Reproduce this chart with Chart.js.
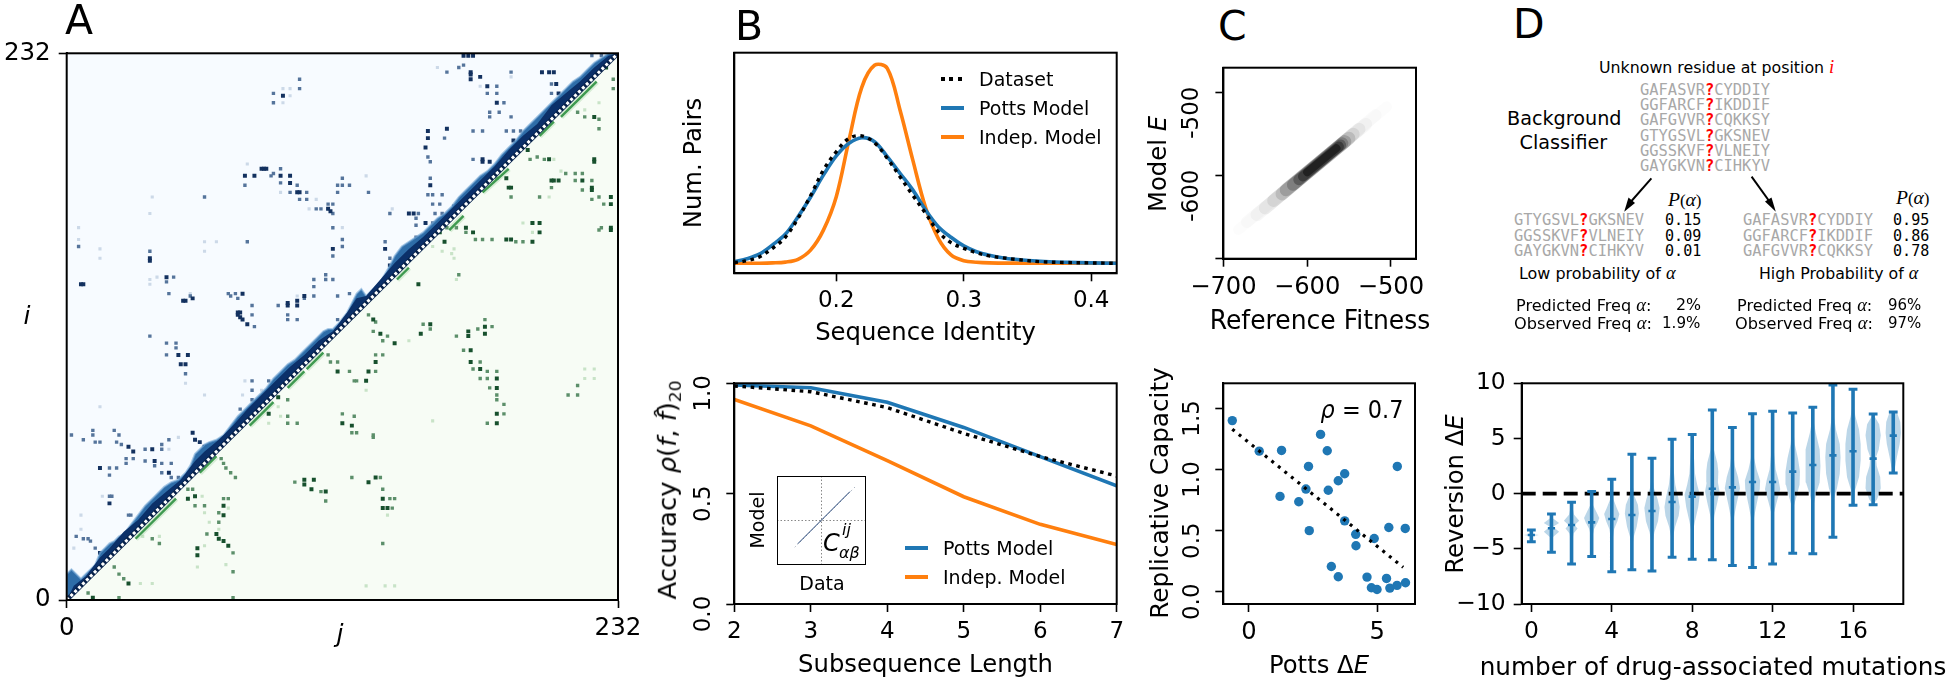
<!DOCTYPE html>
<html>
<head>
<meta charset="utf-8">
<title>Potts model panels</title>
<script src="https://cdn.jsdelivr.net/npm/chart.js@4"></script>
<style>
	html, body { margin: 0; background: #fff; width: 1950px; height: 684px; overflow: hidden; }
	canvas { position: absolute; }
	.t { position: absolute; white-space: nowrap; line-height: 1; font-family: "DejaVu Sans", sans-serif; color: #000; }
	.t i.s { font-family: "Liberation Serif", serif; }
	.mono { font-family: "DejaVu Sans Mono", monospace; }
</style>
</head>
<body>
<script>
// Panel A: contact map, [j, i] cells
const triUpperJ = [0, 0, 232];
const triUpperI = [0, 232, 232];
const triLowerJ = [0, 232, 232];
const triLowerI = [0, 0, 232];
const diagJ = [0, 232];
const diagI = [0, 232];
const bandJ = [0, 0, 2, 4, 6, 8, 10, 12, 14, 16, 18, 20, 22, 24, 27, 30, 33, 36, 38, 41, 44, 47, 50, 52, 54, 56, 58, 60, 63, 66, 69, 72, 75, 78, 81, 84, 87, 90, 93, 96, 99, 102, 105, 108, 110, 112, 115, 118, 120, 122, 124, 126, 128, 132, 136, 138, 141, 144, 147, 150, 153, 156, 159, 162, 165, 168, 171, 174, 177, 180, 183, 186, 189, 192, 195, 198, 201, 204, 207, 210, 213, 216, 219, 222, 225, 228, 232];
const bandI = [0, 11, 13, 11, 9, 11, 13, 15, 20, 22, 24, 25, 27, 28, 32, 36, 40, 43, 45, 48, 50, 51, 54, 57, 62, 64, 66, 67, 68, 70, 74, 78, 81, 84, 87, 90, 94, 97, 100, 102, 105, 108, 111, 114, 115, 115, 118, 122, 126, 130, 132, 129, 131, 135, 142, 146, 150, 152, 154, 156, 159, 162, 164, 167, 171, 174, 177, 180, 182, 185, 189, 192, 195, 199, 202, 205, 208, 211, 214, 217, 220, 222, 225, 228, 230, 232, 232];
const bandDarkJ = [0, 3, 8, 14, 18, 24, 30, 36, 42, 48, 54, 58, 64, 70, 76, 82, 88, 94, 100, 106, 112, 118, 122, 126, 132, 138, 144, 150, 156, 162, 168, 174, 180, 186, 192, 198, 204, 210, 216, 222, 228, 232];
const bandDarkI = [0, 6, 10, 18, 22, 29, 34, 41, 46, 51, 59, 63, 68, 74, 81, 87, 93, 99, 104, 110, 114, 122, 128, 129, 136, 143, 149, 154, 160, 166, 172, 178, 184, 191, 197, 202, 210, 215, 220, 226, 231, 232];
const greenLineJ = [29, 46, null, 56, 63, null, 77, 87, null, 93, 100, null, 101, 108, null, 139, 144, null, 161, 167, null, 175, 186, null, 199, 205, null, 208, 223];
const greenLineI = [26, 43, null, 54, 61, null, 74, 84, null, 90, 97, null, 98, 105, null, 136, 141, null, 157, 163, null, 173, 183, null, 197, 203, null, 205, 220];
const blueStrong = [[91,214],[83,183],[82,183],[84,183],[75,180],[79,180],[90,180],[94,180],[94,177],[97,173],[98,173],[110,166],[111,165],[35,145],[35,144],[112,149],[6,134],[7,134],[42,137],[50,127],[49,127],[53,128],[74,130],[100,129],[93,126],[93,125],[97,127],[97,125],[72,122],[73,122],[72,121],[73,120],[74,119],[76,117],[170,224],[170,223],[170,221],[174,222],[200,224],[203,224],[205,224],[206,219],[177,218],[207,215],[210,215],[181,211],[152,199],[160,200],[152,196],[151,192],[188,195],[191,194],[175,187],[175,186],[178,186],[153,176],[163,167],[144,164],[146,164],[151,160],[154,158],[134,149],[136,142],[138,143],[121,125],[47,104],[51,104],[50,100],[48,100],[53,71],[54,68],[56,67],[58,65],[26,65],[28,63],[36,64],[37,59],[14,56],[43,54],[18,41],[14,20],[167,231],[169,231],[171,231]];
const blueMid = [[98,221],[98,217],[87,215],[87,211],[90,183],[86,180],[87,181],[75,176],[90,177],[97,176],[94,173],[101,173],[98,170],[101,170],[105,166],[107,166],[110,168],[112,168],[112,164],[114,176],[114,173],[58,171],[112,158],[5,150],[76,152],[35,148],[112,146],[109,138],[112,136],[109,136],[104,136],[104,133],[45,137],[42,135],[43,130],[52,129],[68,130],[71,130],[69,129],[72,128],[78,125],[104,129],[114,129],[89,125],[100,128],[78,121],[79,116],[93,121],[93,119],[97,119],[114,119],[160,224],[165,226],[167,227],[187,224],[204,219],[181,218],[177,215],[181,215],[204,215],[184,211],[178,207],[178,205],[182,207],[187,205],[171,199],[175,199],[159,196],[185,199],[188,199],[191,199],[152,188],[153,186],[171,187],[116,179],[153,179],[116,176],[119,176],[127,173],[152,172],[154,172],[158,172],[168,172],[154,168],[157,168],[136,164],[148,164],[155,164],[158,164],[147,162],[147,159],[154,160],[147,154],[150,154],[153,154],[148,152],[116,153],[116,150],[134,152],[136,145],[141,143],[119,130],[122,128],[126,128],[35,112],[42,109],[46,109],[46,107],[42,104],[50,96],[78,93],[85,93],[78,89],[78,85],[73,81],[2,70],[11,72],[11,70],[20,72],[22,70],[43,68],[7,68],[12,67],[14,67],[21,67],[23,66],[33,64],[40,66],[40,64],[25,60],[28,60],[25,58],[33,59],[37,57],[40,58],[44,58],[18,56],[21,56],[18,53],[40,54],[44,52],[47,52],[18,44],[19,44],[26,36],[27,36],[4,27],[7,26],[9,26],[10,25],[12,22],[221,231],[225,231],[228,230]];
const blueFaint = [[94,217],[91,217],[94,214],[91,211],[76,185],[90,173],[105,170],[102,166],[36,171],[35,164],[5,158],[5,153],[58,152],[63,152],[58,148],[14,149],[14,145],[35,136],[35,134],[38,137],[52,130],[97,129],[156,226],[187,222],[174,218],[137,166],[116,158],[126,180],[47,69],[43,64],[50,92],[75,93],[82,89],[58,87],[74,87],[14,82],[15,44],[6,36],[6,30],[3,22]];
const greenStrong = [[51,43],[54,44],[66,40],[66,36],[63,28],[64,26],[66,25],[68,23],[55,22],[55,19],[11,1],[26,7],[116,75],[120,74],[100,51],[104,51],[100,49],[103,47],[109,46],[85,79],[89,86],[114,97],[170,106],[170,101],[174,98],[181,94],[181,90],[181,79],[181,75],[130,101],[127,97],[126,93],[138,109],[127,50],[130,52],[133,43],[133,39],[135,39],[153,117],[149,113],[129,119],[132,113],[176,116],[176,113],[169,114],[169,112],[148,134],[159,152],[157,156],[168,158],[171,156],[185,153],[187,153],[196,152],[196,160],[199,160],[199,156],[194,191],[203,187],[204,178],[205,178],[207,178],[217,178],[221,175],[221,174],[229,171],[229,168],[229,157],[229,158],[186,175],[187,175],[185,179],[222,187],[222,186],[222,205],[227,226]];
const greenMid = [[65,60],[66,58],[67,56],[69,54],[71,52],[51,47],[53,47],[54,40],[58,40],[66,43],[68,43],[64,37],[64,33],[59,28],[70,20],[70,12],[70,1],[22,1],[9,3],[15,15],[20,14],[22,11],[24,9],[36,26],[39,24],[116,79],[121,78],[122,71],[120,71],[120,52],[96,50],[107,46],[109,42],[93,78],[93,75],[97,75],[93,85],[111,101],[114,101],[119,97],[121,93],[110,104],[167,106],[174,101],[171,98],[177,97],[181,97],[174,94],[177,94],[178,90],[181,87],[181,85],[184,83],[184,79],[177,75],[215,91],[211,87],[215,87],[130,104],[133,104],[130,97],[122,93],[133,110],[129,70],[129,69],[132,52],[133,47],[136,43],[138,43],[137,39],[133,24],[150,117],[153,115],[129,114],[135,112],[123,123],[127,121],[130,118],[176,119],[173,115],[179,116],[164,112],[165,138],[160,158],[164,158],[168,156],[172,153],[175,153],[179,153],[189,152],[192,152],[196,160],[198,188],[195,187],[201,187],[210,181],[214,181],[217,181],[204,175],[214,178],[221,178],[217,174],[221,170],[224,171],[226,168],[225,158],[224,157],[187,171],[199,171],[181,179],[224,204],[224,200],[218,205],[215,207],[230,221],[230,217]];
const greenFaint = [[57,44],[68,39],[58,37],[60,33],[64,30],[58,23],[55,14],[67,15],[31,7],[36,7],[32,27],[39,27],[90,78],[85,75],[89,82],[218,98],[222,98],[218,94],[222,94],[154,76],[126,89],[144,110],[135,36],[134,6],[138,6],[126,6],[164,136],[163,145],[163,149],[162,147],[158,148],[154,150],[196,156],[192,160],[205,187],[208,182],[203,171],[218,208],[224,211]];
const aTicks = [0, 232];
const aTickLabels = ['0', '232'];

// Panel B top
const identityX = [0.12, 0.13, 0.14, 0.15, 0.16, 0.17, 0.18, 0.19, 0.20, 0.21, 0.22, 0.23, 0.24, 0.25, 0.26, 0.27, 0.28, 0.29, 0.30, 0.31, 0.32, 0.33, 0.34, 0.36, 0.38, 0.40, 0.42];
const identityDataset = [0.3, 1.3, 3.3, 7.5, 13, 22.5, 34, 46.7, 55.8, 62.5, 63.7, 60.3, 52.5, 43.3, 34, 25, 15.8, 10.3, 7.5, 5.3, 3.7, 2.8, 2, 0.8, 0.4, 0.2, 0];
const identityPotts = [0.8, 2.3, 4.7, 9.2, 14.5, 23.3, 33.3, 44.2, 53.7, 60, 62.8, 60.8, 53.3, 45, 36.7, 26.7, 18.3, 13, 8.7, 5.8, 4, 2.8, 2, 1, 0.5, 0.2, 0];
const indepX = [0.12, 0.14, 0.15, 0.16, 0.17, 0.18, 0.19, 0.20, 0.21, 0.22, 0.23, 0.24, 0.25, 0.26, 0.27, 0.28, 0.29, 0.30, 0.31, 0.32, 0.34, 0.42];
const identityIndep = [0, 0.05, 0.2, 0.6, 2, 6.7, 16.7, 33.3, 61.7, 88, 99, 97.5, 76.7, 51.7, 28, 12.5, 4.2, 1.3, 0.5, 0.2, 0.1, 0];
const identityTicks = [0.2, 0.3, 0.4];
const identityTickLabels = ['0.2', '0.3', '0.4'];

// Panel B bottom
const subLength = [2, 3, 4, 5, 6, 7];
const accDataset = [0.988, 0.962, 0.89, 0.773, 0.668, 0.58];
const accPotts = [0.992, 0.98, 0.914, 0.80, 0.668, 0.536];
const accIndep = [0.927, 0.807, 0.65, 0.486, 0.361, 0.27];
const accTicks = [0, 0.5, 1];
const accTickLabels = ['0.0', '0.5', '1.0'];
const insetCrossX = [-1, 1];
const insetZero = [0, 0];
const insetLineX = [-0.53, 0.64];
const insetLineY = [-0.52, 0.65];
const insetTailX = [-0.6, 0.79];
const insetTailY = [-0.6, 0.79];

// Panel C top: density ridge, faint to dark
const ridgeStartX = [-682, -672, -660, -650, -640, -630, -625, -617, -610, -605, -600];
const ridgeStartY = [-665, -656, -647, -639, -630, -622, -617, -611, -605, -601, -596];
const ridgeEndX = [-505, -518, -530, -538, -545, -550, -555, -558, -560, -562, -565];
const ridgeEndY = [-517, -527, -538, -544, -550, -555, -559, -561, -563, -565, -567];
const ridgeAlpha = [0.012, 0.02, 0.03, 0.05, 0.08, 0.12, 0.16, 0.2, 0.28, 0.35, 0.45];
const ridgeWidth = [11, 12, 13, 13, 13, 13, 13, 12, 11, 10, 8];
const fitnessTicks = [-700, -600, -500];
const fitnessTickLabels = ['\u2212700', '\u2212600', '\u2212500'];
const modelETicks = [-700, -600, -500];
const modelETickLabels = ['', '-600', '-500'];

// Panel C bottom
const pottsE = [-0.65, 0.40, 1.27, 1.21, 1.94, 2.22, 2.32, 2.35, 2.79, 3.05, 3.09, 3.48, 3.73, 3.73, 3.21, 3.48, 4.16, 4.17, 4.60, 4.88, 4.77, 4.99, 5.36, 5.45, 5.49, 5.77, 5.78, 6.10, 6.09];
const repCapacity = [1.40, 1.15, 1.156, 0.78, 0.736, 0.84, 1.025, 0.50, 1.287, 1.153, 0.83, 0.908, 0.965, 0.58, 0.207, 0.123, 0.47, 0.376, 0.12, 0.436, 0.033, 0.019, 0.109, 0.526, 0.03, 0.052, 1.025, 0.074, 0.518];
const fitLineX = [-0.65, 6.01];
const fitLineY = [1.33, 0.2];
const pottsTicks = [0, 5];
const pottsTickLabels = ['0', '5'];
const capTicks = [0, 0.5, 1, 1.5];
const capTickLabels = ['0.0', '0.5', '1.0', '1.5'];

// Panel D bottom: reversion violins
const mutCount = [0, 1, 2, 3, 4, 5, 6, 7, 8, 9, 10, 11, 12, 13, 14, 15, 16, 17, 18];
const revMin = [-4.35, -5.3, -6.37, -5.7, -7.07, -6.9, -7, -5.77, -5.95, -5.98, -6.5, -6.7, -6.37, -5.4, -5.44, -3.96, -1.06, -1, 1.87];
const revMid = [-3.75, -3.14, -2.84, -2.6, -2.3, -1.93, -1.57, -0.76, -0.27, 0.45, 0.57, 1.06, 1.06, 2.0, 2.6, 3.47, 3.84, 3.17, 5.26];
const revMax = [-3.3, -1.84, -0.79, 0.2, 1.3, 3.56, 3.2, 4.92, 5.35, 7.58, 6.0, 7.25, 7.46, 7.3, 7.82, 9.85, 9.46, 7.22, 7.4];
// each violin: [y, half width] from bottom to top
const violinShapes = [
	[[-4.3,0],[-3.85,0.02],[-3.75,0.38],[-3.65,0.02],[-3.3,0]],
	[[-5.3,0],[-4,0.04],[-3.45,0.38],[-3,0.08],[-2.65,0.38],[-2.2,0.05],[-1.84,0]],
	[[-6.37,0],[-4.5,0.02],[-3.6,0.1],[-3.15,0.3],[-2.85,0.15],[-2.45,0.38],[-1.9,0.12],[-0.79,0]],
	[[-5.7,0],[-4,0.03],[-3.2,0.12],[-2.6,0.3],[-2.2,0.38],[-1.7,0.25],[-1,0.06],[0.2,0]],
	[[-7.07,0],[-4.5,0.02],[-3.2,0.12],[-2.5,0.28],[-1.85,0.38],[-1.3,0.25],[-0.5,0.08],[1.3,0]],
	[[-6.9,0],[-5,0.02],[-4,0.08],[-3,0.24],[-1.8,0.35],[-1,0.3],[-0.2,0.12],[1,0.02],[3.56,0]],
	[[-7,0],[-4.5,0.03],[-3.5,0.12],[-2.5,0.3],[-1.3,0.38],[-0.5,0.28],[0.5,0.1],[1.5,0.02],[3.2,0]],
	[[-5.77,0],[-4,0.04],[-3,0.15],[-2,0.33],[-1.2,0.38],[-0.3,0.3],[0.8,0.16],[1.8,0.1],[3,0.03],[4.92,0]],
	[[-5.95,0],[-3.5,0.03],[-2.5,0.14],[-1.2,0.3],[-0.1,0.38],[0.8,0.25],[1.8,0.14],[3,0.1],[5.35,0]],
	[[-5.98,0],[-3,0.02],[-2,0.1],[-0.8,0.25],[0.2,0.36],[1,0.28],[2,0.3],[2.8,0.25],[4,0.08],[7.58,0]],
	[[-6.5,0],[-2.5,0.04],[-1,0.2],[0.5,0.38],[1.5,0.28],[2.5,0.12],[3.5,0.05],[6,0]],
	[[-6.7,0],[-2.5,0.04],[-1,0.2],[0.4,0.36],[1.2,0.38],[2.2,0.2],[3.2,0.08],[4.5,0.03],[7.25,0]],
	[[-6.37,0],[-2,0.03],[-0.8,0.2],[0.4,0.38],[1.2,0.3],[2.2,0.15],[3.5,0.08],[5,0.02],[7.46,0]],
	[[-5.4,0],[-1.2,0.04],[-0.2,0.2],[0.8,0.34],[2,0.36],[3.2,0.26],[4.5,0.1],[5.8,0.03],[7.3,0]],
	[[-5.44,0],[-1,0.04],[0,0.16],[1,0.34],[2.5,0.38],[4,0.34],[5.5,0.15],[6.5,0.05],[7.82,0]],
	[[-3.96,0],[-0.5,0.04],[0.5,0.2],[1.8,0.34],[3.3,0.38],[4.5,0.34],[5.8,0.15],[7,0.05],[9.85,0]],
	[[-1.06,0],[0.3,0.1],[1.5,0.3],[3,0.38],[4.5,0.38],[5.8,0.3],[7,0.12],[8,0.03],[9.46,0]],
	[[-1,0],[-0.5,0.2],[0.5,0.38],[1.5,0.35],[2.5,0.18],[3.3,0.14],[4,0.28],[5.3,0.38],[6.3,0.3],[7.22,0]],
	[[1.87,0],[2.5,0.1],[3.3,0.18],[4.5,0.32],[5.5,0.38],[6.5,0.35],[7.4,0.18]]
];
const mutTicks = [0, 4, 8, 12, 16];
const mutTickLabels = ['0', '4', '8', '12', '16'];
const revTicks = [-10, -5, 0, 5, 10];
const revTickLabels = ['\u221210', '\u22125', '0', '5', '10'];

// Panel D top: classifier text
const topSeqs = ['GAFASVR?CYDDIY', 'GGFARCF?IKDDIF', 'GAFGVVR?CQKKSY', 'GTYGSVL?GKSNEV', 'GGSSKVF?VLNEIY', 'GAYGKVN?CIHKYV'];
const lowSeqs = ['GTYGSVL?GKSNEV', 'GGSSKVF?VLNEIY', 'GAYGKVN?CIHKYV'];
const lowProbs = ['0.15', '0.09', '0.01'];
const highSeqs = ['GAFASVR?CYDDIY', 'GGFARCF?IKDDIF', 'GAFGVVR?CQKKSY'];
const highProbs = ['0.95', '0.86', '0.78'];

const BLUE = '#1f77b4';
const ORANGE = '#ff7f0e';
const LABEL_SIZE = 24.3;

Chart.defaults.font.family = '"DejaVu Sans", sans-serif';
Chart.defaults.color = '#000';

function zip(xs, ys) {
	return xs.map((x, k) => ({x: x, y: ys[k]}));
}

function cells(list) {
	return list.map(c => ({x: c[0], y: c[1]}));
}

function curve(xs, ys, color, width, extra) {
	return Object.assign({data: zip(xs, ys), showLine: true, borderColor: color, borderWidth: width, pointRadius: 0, fill: false}, extra);
}

function shape(points, color, edge) {
	return {data: points, showLine: true, borderWidth: edge ? 2 : 0, borderColor: edge || color, backgroundColor: color, pointRadius: 0, fill: 'shape'};
}

function dots(list, color, radius) {
	return {data: cells(list), pointStyle: 'rect', pointRadius: radius, pointBackgroundColor: color, pointBorderWidth: 0};
}

function axis(min, max, ticks, labels, size, o) {
	o = o || {};
	return {
		type: 'linear', min: min, max: max,
		afterBuildTicks: s => { s.ticks = ticks.map(v => ({value: v})); },
		afterFit: s => { if (s.isHorizontal()) s.height = size; else s.width = size; },
		grid: {drawOnChartArea: false, drawTicks: true, tickLength: 8, tickWidth: 1.6, tickColor: '#000'},
		border: {color: '#000', width: 2},
		ticks: {display: !o.hideLabels, autoSkip: false, minRotation: 0, maxRotation: 0, padding: o.pad === undefined ? 6 : o.pad, font: {size: o.tickSize || 23}, color: '#000', callback: (v, k) => labels[k]},
		title: o.title ? {display: true, text: o.title, color: '#000', font: {size: LABEL_SIZE}, padding: {top: 0, bottom: o.titlePad}} : {display: false}
	};
}

const framePlugin = {
	id: 'frame',
	afterDatasetsDraw(chart) {
		const a = chart.chartArea, ctx = chart.ctx;
		ctx.save();
		ctx.strokeStyle = '#000';
		ctx.lineWidth = 2;
		ctx.strokeRect(a.left, a.top, a.right - a.left, a.bottom - a.top);
		ctx.restore();
	}
};

// matplotlib style rotated y tick labels, hung from the tick
function sideTicks(values, labels, dx, shift) {
	return {
		id: 'sideTicks',
		afterDraw(chart) {
			const ctx = chart.ctx, y = chart.scales.y;
			ctx.save();
			ctx.font = '23px "DejaVu Sans"';
			ctx.fillStyle = '#000';
			ctx.textAlign = 'center';
			ctx.textBaseline = 'middle';
			values.forEach((v, k) => {
				if (!labels[k]) return;
				ctx.save();
				ctx.translate(chart.chartArea.left + dx, y.getPixelForValue(v) + shift);
				ctx.rotate(-Math.PI / 2);
				ctx.fillText(labels[k], 0, 0);
				ctx.restore();
			});
			ctx.restore();
		}
	};
}

// box = canvas rect, plot = chart area rect, both in page pixels
function panel(box, plot, datasets, xScale, yScale, plugins) {
	const canvas = document.createElement('canvas');
	canvas.width = box.w;
	canvas.height = box.h;
	canvas.style.left = box.x + 'px';
	canvas.style.top = box.y + 'px';
	document.body.appendChild(canvas);
	// first dataset in the list is painted first
	const ordered = datasets.slice().reverse();
	return new Chart(canvas.getContext('2d'), {
		type: 'scatter',
		data: {datasets: ordered},
		options: {
			responsive: false,
			animation: false,
			events: [],
			layout: {padding: {top: plot.t - box.y, right: box.x + box.w - plot.r, left: 0, bottom: 0}},
			plugins: {legend: {display: false}, tooltip: {enabled: false}},
			scales: {x: xScale, y: yScale}
		},
		plugins: [framePlugin].concat(plugins || [])
	});
}

function txt(html, x, y, o) {
	o = o || {};
	const el = document.createElement('div');
	el.className = 't' + (o.mono ? ' mono' : '');
	el.innerHTML = html;
	el.style.left = x + 'px';
	el.style.top = y + 'px';
	el.style.fontSize = (o.size || LABEL_SIZE) + 'px';
	if (o.color) el.style.color = o.color;
	if (o.family) el.style.fontFamily = o.family;
	document.body.appendChild(el);
	const fit = o.w ? ' scaleX(' + (o.w / el.offsetWidth) + ')' : '';
	if (o.rot) {
		el.style.transform = 'translate(-50%,-50%) rotate(-90deg)' + fit;
	} else if (o.center) {
		el.style.transform = 'translate(-50%,-50%)' + fit;
	} else {
		el.style.transformOrigin = '0 50%';
		el.style.transform = 'translateY(-50%)' + fit;
	}
	return el;
}

function seq(str, x, y, w) {
	const parts = str.split('?');
	txt('<span style="color:#a8a8a8">' + parts[0] + '</span><b style="color:#f00">?</b><span style="color:#a8a8a8">' + parts[1] + '</span>', x, y, {mono: true, size: 15.5, w: w});
}

function swatch(x, y, w, color, dotted) {
	const el = document.createElement('div');
	el.style.cssText = 'position:absolute;left:' + x + 'px;top:' + (y - 2) + 'px;width:' + w + 'px;height:4px;';
	el.style.background = dotted ? 'repeating-linear-gradient(90deg,' + color + ' 0 4px,transparent 4px 8.3px)' : color;
	document.body.appendChild(el);
}

// ---- Panel A
const diagBack = zip(diagJ.slice().reverse(), diagI.slice().reverse());
panel({x: 0, y: 30, w: 660, h: 640}, {t: 53.3, r: 618}, [
	shape(zip(triUpperJ, triUpperI), '#f7fbff'),
	shape(zip(triLowerJ, triLowerI), '#f7fcf5'),
	dots(blueFaint, '#ccd9e8', 2.2),
	dots(greenFaint, '#c8e3c7', 2.2),
	dots(blueMid, '#55749b', 2.4),
	dots(greenMid, '#5c8f6a', 2.4),
	dots(blueStrong, '#13315f', 2.8),
	dots(greenStrong, '#17502d', 2.8),
	shape(zip(bandJ, bandI).concat(diagBack), '#2e6da8', 'rgba(120,170,215,0.6)'),
	shape(zip(bandDarkJ, bandDarkI).concat(diagBack), '#0b3069'),
	curve(greenLineJ, greenLineI, 'rgba(120,190,120,0.25)', 6),
	curve(greenLineJ, greenLineI, '#3f9a50', 2.4),
	curve(diagJ, diagI, '#06214a', 4.5),
	curve(diagJ, diagI, '#fff', 3, {borderDash: [3, 2.5]})
], axis(0, 232, aTicks, aTickLabels, 70, {tickSize: 24.5}), axis(0, 232, aTicks, aTickLabels, 66.7, {pad: 8, tickSize: 24.5}));

// ---- Panel B top
panel({x: 680, y: 40, w: 460, h: 310}, {t: 52.7, r: 1116.7}, [
	curve(indepX, identityIndep, ORANGE, 3.6, {tension: 0.35}),
	curve(identityX, identityPotts, BLUE, 3.6, {tension: 0.35}),
	curve(identityX, identityDataset, '#000', 3.4, {tension: 0.35, borderDash: [3.6, 4.6]})
], axis(0.12, 0.42, identityTicks, identityTickLabels, 76.7, {title: 'Sequence Identity', titlePad: 1.4}),
	axis(-5, 105.3, [], [], 54.3, {hideLabels: true, title: 'Num. Pairs', titlePad: 16}));

// ---- Panel B bottom
panel({x: 680, y: 370, w: 460, h: 314}, {t: 383.3, r: 1116.7}, [
	curve(subLength, accIndep, ORANGE, 3.6),
	curve(subLength, accPotts, BLUE, 3.6),
	curve(subLength, accDataset, '#000', 3.4, {borderDash: [3.6, 4.6]})
], axis(2, 7, subLength, ['2', '3', '4', '5', '6', '7'], 80, {title: 'Subsequence Length', titlePad: 3.4}),
	axis(0, 1, accTicks, accTickLabels, 54.3, {hideLabels: true}),
	[sideTicks(accTicks, accTickLabels, -30.3, 10)]);

// inset inside panel B bottom
const insetBox = {x: 777, y: 476, w: 89, h: 89};
const insetAxis = {type: 'linear', min: -1, max: 1, display: false};
panel(insetBox, {t: 476, r: 866}, [
	shape(zip([-1, -1, 1, 1], [-1, 1, 1, -1]), '#fff'),
	curve(insetCrossX, insetZero, '#888', 1, {borderDash: [1.5, 2]}),
	curve(insetZero, insetCrossX, '#888', 1, {borderDash: [1.5, 2]}),
	curve(insetTailX, insetTailY, '#8a97a8', 1, {borderDash: [1, 3]}),
	curve(insetLineX, insetLineY, '#0b3069', 0.9)
], insetAxis, insetAxis);

// ---- Panel C top
panel({x: 1165, y: 55, w: 275, h: 285}, {t: 67.7, r: 1416}, ridgeStartX.map((sx, k) => curve(
	[sx, ridgeEndX[k]], [ridgeStartY[k], ridgeEndY[k]], 'rgba(0,0,0,' + ridgeAlpha[k] + ')', ridgeWidth[k], {borderCapStyle: 'round'}
)), axis(-700, -470, fitnessTicks, fitnessTickLabels, 81.3, {tickSize: 24.2}),
	axis(-700, -470, modelETicks, modelETickLabels, 58.4, {hideLabels: true}),
	[sideTicks(modelETicks, modelETickLabels, -31.4, 20)]);

// ---- Panel C bottom
panel({x: 1140, y: 370, w: 300, h: 314}, {t: 383.3, r: 1415}, [
	{data: zip(pottsE, repCapacity), pointRadius: 4.7, pointBackgroundColor: BLUE, pointBorderWidth: 0},
	curve(fitLineX, fitLineY, '#000', 3.2, {borderDash: [3, 5.4]})
], axis(-1, 6.47, pottsTicks, pottsTickLabels, 80, {tickSize: 24.2}),
	axis(-0.1, 1.705, capTicks, capTickLabels, 83.3, {hideLabels: true}),
	[sideTicks(capTicks, capTickLabels, -30.3, 10)]);

// ---- Panel D bottom
const violinSets = violinShapes.map((prof, k) => {
	const left = prof.map(p => ({x: mutCount[k] - p[1], y: p[0]}));
	const right = prof.slice().reverse().map(p => ({x: mutCount[k] + p[1], y: p[0]}));
	return shape(left.concat(right), 'rgba(31,119,180,0.3)');
});
const violinBars = [];
mutCount.forEach((m, k) => {
	violinBars.push({x: m, y: revMin[k]}, {x: m, y: revMax[k]}, {x: m, y: null});
});
const capPoints = [];
mutCount.forEach((m, k) => {
	capPoints.push({x: m, y: revMin[k]}, {x: m, y: revMax[k]});
});
panel({x: 1440, y: 355, w: 510, h: 329}, {t: 383.3, r: 1903.3}, violinSets.concat([
	curve([-0.48, 18.5], [0, 0], '#000', 3.6, {borderDash: [14, 7]}),
	{data: violinBars, showLine: true, borderColor: BLUE, borderWidth: 3.6, pointRadius: 0, fill: false},
	{data: capPoints, pointStyle: 'line', pointRadius: 4.4, pointBorderColor: BLUE, pointBorderWidth: 3},
	{data: zip(mutCount, revMid), pointStyle: 'line', pointRadius: 3.6, pointBorderColor: BLUE, pointBorderWidth: 2.6}
]), axis(-0.48, 18.5, mutTicks, mutTickLabels, 80, {tickSize: 23.4}),
	axis(-10, 10, revTicks, revTickLabels, 81.7, {pad: 8, tickSize: 23.4}));

// ---- Text overlays
txt('A', 65, 20, {size: 41});
txt('B', 735, 26, {size: 41});
txt('C', 1218, 26, {size: 41});
txt('D', 1513, 24, {size: 41});
txt('<i>i</i>', 27, 315, {center: true, size: 25});
txt('<i>j</i>', 340, 633, {center: true, size: 25});

txt('Dataset', 979, 79, {size: 19});
txt('Potts Model', 979, 108, {size: 19});
txt('Indep. Model', 979, 137, {size: 19});
swatch(941, 79, 23, '#000', true);
swatch(941, 108, 23, BLUE);
swatch(941, 137, 23, ORANGE);

txt('Accuracy <i>\u03c1</i>(<i>f</i>, <i>f\u0302</i>)<span style="font-size:16px;position:relative;top:5px">20</span>', 668, 490, {rot: true, w: 219});
txt('Model', 757, 520, {rot: true, size: 19});
txt('Data', 822, 583, {center: true, size: 19});
txt('<i>C</i>', 823, 543, {size: 24});
txt('<i>ij</i>', 842, 530, {size: 16});
txt('<i>\u03b1\u03b2</i>', 839, 553, {size: 16});
txt('Potts Model', 943, 548, {size: 19});
txt('Indep. Model', 943, 577, {size: 19});
swatch(905, 548, 23, BLUE);
swatch(905, 577, 23, ORANGE);

txt('Reference Fitness', 1320.2, 320, {center: true, size: 26.4, w: 221});
txt('Model <i>E</i>', 1158, 164, {rot: true});
txt('Replicative Capacity', 1160, 492.6, {rot: true, size: 24.6, w: 251});
txt('Potts \u0394<i>E</i>', 1319, 665, {center: true});
txt('<i>\u03c1</i> = 0.7', 1362, 410, {center: true, w: 83});
txt('Reversion \u0394<i>E</i>', 1455, 494, {rot: true});
txt('number of drug-associated mutations', 1713.3, 666.7, {center: true, size: 24.07, w: 467});

txt('Unknown residue at position <i class="s" style="color:#f00;font-size:19px">i</i>', 1598.6, 65.7, {size: 16, w: 235});
txt('Background', 1507, 119, {size: 19.2});
txt('Classifier', 1519.6, 142.7, {size: 19.2});
topSeqs.forEach((s, k) => seq(s, 1640, 90.7 + k * 15.33, 130.3));
lowSeqs.forEach((s, k) => {
	seq(s, 1514, 221.3 + k * 15.35, 130.5);
	txt(lowProbs[k], 1664.7, 221.3 + k * 15.35, {mono: true, size: 15.5, w: 36});
});
highSeqs.forEach((s, k) => {
	seq(s, 1742.7, 221.3 + k * 15.35, 130.3);
	txt(highProbs[k], 1893, 221.3 + k * 15.35, {mono: true, size: 15.5, w: 36});
});
const serif = '<i class="s" style="font-size:1.15em">';
txt(serif + 'P</i><span style="font-family:Liberation Serif">(</span>' + serif + '\u03b1</i><span style="font-family:Liberation Serif">)</span>', 1667.7, 200, {size: 16, w: 34});
txt(serif + 'P</i><span style="font-family:Liberation Serif">(</span>' + serif + '\u03b1</i><span style="font-family:Liberation Serif">)</span>', 1895.7, 198, {size: 16, w: 34});
txt('Low probability of ' + serif + '\u03b1</i>', 1518.6, 273.3, {size: 16, w: 156.4});
txt('High Probability of ' + serif + '\u03b1</i>', 1758.5, 273.3, {size: 16, w: 159.5});
txt('Predicted Freq ' + serif + '\u03b1</i>:', 1515.6, 305, {size: 16, w: 135.8});
txt('Observed Freq ' + serif + '\u03b1</i>:', 1514, 322.7, {size: 16, w: 137.4});
txt('2%', 1676, 305, {size: 16, w: 24.7});
txt('1.9%', 1662, 322.7, {size: 16, w: 38.7});
txt('Predicted Freq ' + serif + '\u03b1</i>:', 1736.8, 305, {size: 16, w: 135.7});
txt('Observed Freq ' + serif + '\u03b1</i>:', 1735, 322.7, {size: 16, w: 137.5});
txt('96%', 1888.3, 305, {size: 16, w: 33.7});
txt('97%', 1888.3, 322.7, {size: 16, w: 33.7});

// classifier arrows
document.body.insertAdjacentHTML('beforeend',
	'<svg style="position:absolute;left:0;top:0" width="1950" height="684">' +
	'<line x1="1651.4" y1="178.3" x2="1628" y2="205" stroke="#000" stroke-width="2"/>' +
	'<polygon points="1624.2,211.7 1628.5,197.5 1635,203" fill="#000"/>' +
	'<line x1="1751.6" y1="176.7" x2="1772" y2="205" stroke="#000" stroke-width="2"/>' +
	'<polygon points="1775.8,211.7 1765,201.5 1771.5,197.5" fill="#000"/>' +
	'</svg>');
</script>
</body>
</html>
